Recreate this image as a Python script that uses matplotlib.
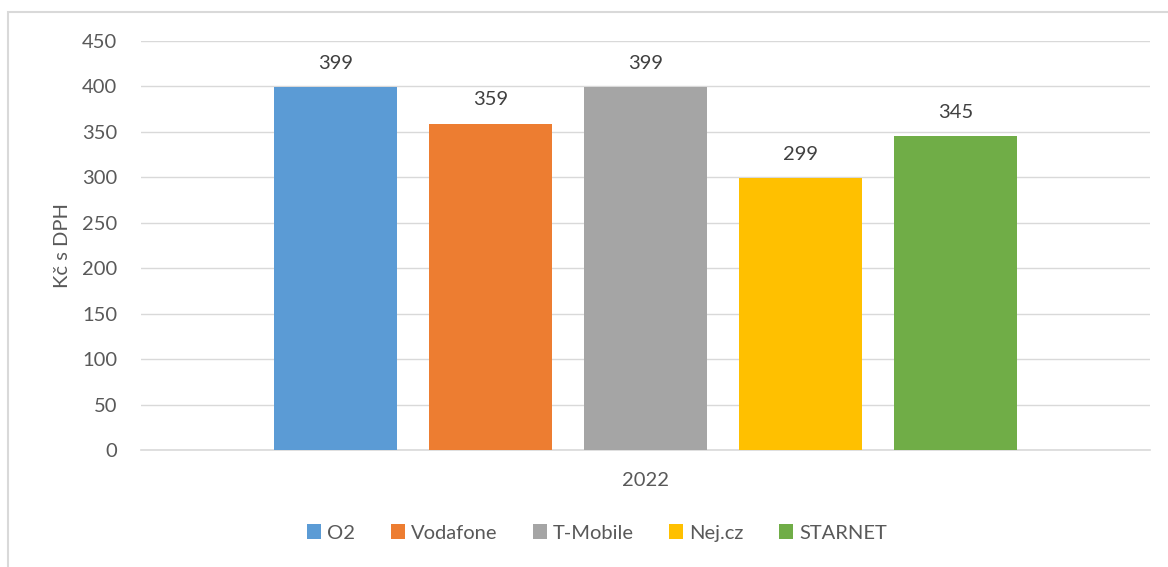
import matplotlib
matplotlib.use("Agg")
import matplotlib.pyplot as plt
from matplotlib.patches import Rectangle, Patch

plt.rcParams['font.family'] = ['Lato', 'DejaVu Sans']

categories = ["2022"]
series_names = ["O2", "Vodafone", "T-Mobile", "Nej.cz", "STARNET"]
values = [399, 359, 399, 299, 345]
colors = ["#5B9BD5", "#ED7D31", "#A5A5A5", "#FFC000", "#70AD47"]
y_ticks = [0, 50, 100, 150, 200, 250, 300, 350, 400, 450]
y_label = "Kč s DPH"

FS = 14.5
W, H = 1168, 567
fig = plt.figure(figsize=(W / 100, H / 100), dpi=100)
ax = fig.add_axes([141 / W, 1 - 450 / H, (1150 - 141) / W, (450 - 41) / H])

axis_w = 1150 - 141
bar_w = 123 / axis_w
step = 155 / axis_w
n = len(series_names)
handles = []
for i, (name, v, c) in enumerate(zip(series_names, values, colors)):
    x = (i - (n - 1) / 2) * step
    ax.bar(x, v, width=bar_w, color=c, zorder=3)
    ax.annotate(str(v), (x, v), xytext=(0, 11), textcoords="offset points",
                ha="center", va="bottom", fontsize=FS, color="#404040")
    handles.append(Patch(facecolor=c, label=name))

ax.set_xlim(-0.5, 0.5)
ax.set_ylim(0, 450)
ax.set_yticks(y_ticks)
ax.set_xticks([0])
ax.set_xticklabels(categories)
ax.tick_params(axis="both", length=0, labelsize=FS, colors="#595959")
ax.tick_params(axis="y", pad=17)
ax.tick_params(axis="x", pad=16)
ax.grid(axis="y", color="#D9D9D9", linewidth=1.0, zorder=0)
for s in ["top", "right", "left"]:
    ax.spines[s].set_visible(False)
ax.spines["bottom"].set_color("#D9D9D9")
ax.spines["bottom"].set_linewidth(1.2)
ax.set_axisbelow(True)
ax.set_ylabel(y_label, fontsize=FS, color="#595959", labelpad=8)

fig.legend(handles=handles, loc="center", bbox_to_anchor=(597 / W, 1 - 533 / H),
           ncol=5, frameon=False, fontsize=FS, labelcolor="#595959",
           handlelength=0.7, handleheight=0.7, handletextpad=0.3,
           columnspacing=1.75)

fig.patches.append(Rectangle((8 / W, -0.1), 1.1, 1 - 12 / H + 0.1,
                             transform=fig.transFigure, fill=False,
                             edgecolor="#D9D9D9", linewidth=1.5))

fig.savefig("out.png", dpi=100)
